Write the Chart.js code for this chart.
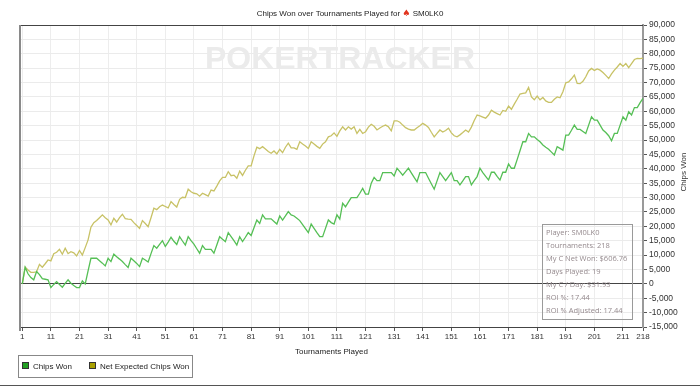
<!DOCTYPE html>
<html>
<head>
<meta charset="utf-8">
<script src="https://cdn.jsdelivr.net/npm/chart.js@4/dist/chart.umd.min.js"></script>
<style>
  html, body { margin: 0; padding: 0; background: #fff; }
</style>
</head>
<body>
<canvas id="chipsChart" width="700" height="387"></canvas>
<script>
// tick labels on the x axis
const xTicks = [1, 11, 21, 31, 41, 51, 61, 71, 81, 91, 101, 111, 121, 131, 141, 151, 161, 171, 181, 191, 201, 211, 218];

// chips won, one value per tournament (1..218)
const chipsWon = [
  0, 5800, 3500, 2200, 1400, 4300, 3200, 1800, 1600, 1400,
  -1300, -200, 800, -200, -1150, 200, 1400, 200, -600, -1300,
  -1300, 1000, 0, 4500, 8900, 8900, 8900, 8000, 7200, 6250,
  8900, 7750, 10300, 9400, 8600, 7750, 6700, 5700, 8900, 8000,
  7100, 6000, 8900, 8300, 7600, 10500, 13300, 12400, 13700, 15000,
  13000, 14500, 16200, 14800, 13700, 16400, 14900, 13500, 16400, 15000,
  13800, 12200, 10650, 13300, 12000, 12000, 12000, 10650, 13500, 16400,
  15500, 14700, 17800, 16400, 15000, 13500, 16400, 14700, 16200, 17800,
  16800, 19500, 22200, 21000, 24000, 22600, 22600, 22600, 21700, 20800,
  23600, 22200, 23600, 25100, 24000, 23600, 22800, 22000, 20600, 19200,
  17800, 20800, 19300, 17800, 16400, 16400, 19300, 22200, 21300, 20800,
  24000, 22500, 28000, 26800, 28400, 30000, 30000, 30000, 31500, 33200,
  31200, 31200, 35000, 37000, 35900, 35900, 38700, 38700, 38700, 38700,
  37500, 40200, 39000, 37800, 39000, 40200, 38600, 37000, 35500, 38700,
  38700, 38700, 36700, 34800, 32900, 35800, 38700, 37300, 35900, 37300,
  38700, 35900, 35900, 34400, 35800, 37300, 37300, 34400, 35900, 37300,
  40200, 38700, 37400, 36100, 38800, 38800, 37400, 36100, 38800, 38800,
  41700, 40200, 40200, 43200, 46300, 49400, 49400, 52300, 51100, 51100,
  50200, 49400, 48300, 47500, 46800, 45800, 44800, 47700, 47100, 46500,
  51700, 51700, 53400, 55200, 53700, 53700, 53000, 52300, 55200, 58100,
  56900, 56900, 55200, 53500, 52600, 51500, 49750, 52300, 52300, 55200,
  58100, 56900, 59800, 58700, 61300, 61300, 63000, 64500
];

// net expected chips won
const netExpected = [
  0, 5800, 4800, 4000, 4000, 4200, 6800, 5800, 7000, 8300,
  8000, 10500, 11000, 12000, 10300, 12400, 10500, 11200, 10800, 9700,
  11600, 10000, 12600, 15300, 19700, 21300, 22000, 23000, 24000, 23000,
  22200, 20500, 22800, 21500, 23000, 24200, 22700, 22500, 22400, 21300,
  20300, 19300, 22000, 21000, 19900, 23000, 26300, 25800, 26800, 27400,
  26900, 26400, 28600, 27600, 26700, 29400, 30100, 30000, 32900, 32000,
  31500, 31300, 30500, 31500, 31000, 30500, 32600, 32300, 34000, 35800,
  37000, 37000, 39000, 37600, 37800, 36700, 39200, 37700, 39500, 41000,
  41000, 44500, 47500, 47000, 47700, 46900, 46000, 45400, 46200, 45200,
  46800, 45600, 47500, 48900, 47300, 47300, 46800, 49400, 48600, 47900,
  47100, 49400, 48600, 47800, 47100, 48600, 49400, 51100, 51500, 52500,
  51300, 53200, 54600, 53500, 54600, 53800, 54600, 52300, 53700, 52300,
  52900, 54500, 55500, 54800, 53500, 54200, 54800, 55200, 54600, 53200,
  56700, 56700, 56200, 55200, 54300, 53800, 53500, 53500, 54300, 55000,
  55800, 55200, 54400, 52700, 51100, 52300, 53500, 52800, 53300, 54100,
  52500, 51500, 51100, 51800, 52600, 53500, 52800, 54500, 56800, 58700,
  58400, 58000, 57600, 58700, 60400, 59700, 59200, 58700, 60300, 60000,
  61800, 60700, 62500, 64200, 66000, 66200, 66400, 68300, 65000, 64000,
  65300, 64000, 64800, 63600, 63100, 63100, 64200, 65000, 64700, 66800,
  69900, 70200, 71300, 72600, 69700, 69600, 70400, 72000, 74000, 74900,
  74200, 74700, 74300, 73500, 72500, 71400, 73000, 74300, 75400, 76600,
  75600, 76600, 75200, 76600, 78000, 78400, 78300, 78500
];

const seriesNames = ['Chips Won', 'Net Expected Chips Won'];
const infoLines = [
  'Player: SM0LK0',
  'Tournaments: 218',
  'My C Net Won: $606.76',
  'Days Played: 19',
  'My C / Day: $31.93',
  'ROI %: 17.44',
  'ROI % Adjusted: 17.44'
];

const FONT = '"Liberation Sans", Arial, sans-serif';
const lineGreen = '#55bf55', lineYellow = '#c8c266';
const boxGreen = '#22a022', boxYellow = '#a9a000';

// everything the library does not draw itself: title, watermark, frame, info box, legend
const extras = {
  id: 'extras',
  beforeDraw(chart) {
    const ctx = chart.ctx;
    ctx.save();
    ctx.fillStyle = '#fff';
    ctx.fillRect(0, 0, chart.width, chart.height);
    ctx.restore();
  },
  beforeDatasetsDraw(chart) {
    const ctx = chart.ctx;
    ctx.save();
    // watermark
    ctx.font = 'bold 32px ' + FONT;
    ctx.fillStyle = '#ebebeb';
    ctx.textBaseline = 'alphabetic';
    const wm = 'POKERTRACKER';
    const w = ctx.measureText(wm).width;
    ctx.translate(205, 69);
    ctx.scale(270 / w, 1);
    ctx.fillText(wm, 0, 0);
    ctx.restore();
  },
  afterDraw(chart) {
    const ctx = chart.ctx;
    const a = chart.chartArea;
    ctx.save();

    // frame top and left
    ctx.strokeStyle = '#444';
    ctx.lineWidth = 1;
    ctx.beginPath();
    ctx.moveTo(a.left, a.top + 0.5);
    ctx.lineTo(a.right, a.top + 0.5);
    ctx.stroke();
    ctx.strokeStyle = '#8a8a8a';
    ctx.lineWidth = 2;
    ctx.beginPath();
    ctx.moveTo(a.left, a.top);
    ctx.lineTo(a.left, a.bottom + 4);
    ctx.stroke();

    // title with red spade
    ctx.textBaseline = 'middle';
    const t1 = 'Chips Won over Tournaments Played for ';
    const t2 = ' SM0LK0';
    ctx.font = '9px "DejaVu Sans"';
    const sw = ctx.measureText('\u2660').width;
    ctx.font = '8px ' + FONT;
    const w1 = ctx.measureText(t1).width, w2 = ctx.measureText(t2).width;
    const x = 350 - (w1 + sw + w2) / 2;
    ctx.fillStyle = '#222';
    ctx.fillText(t1, x, 14);
    ctx.font = '9px "DejaVu Sans"';
    ctx.fillStyle = '#e2341f';
    ctx.fillText('\u2660', x + w1, 14);
    ctx.font = '8px ' + FONT;
    ctx.fillStyle = '#222';
    ctx.fillText(t2, x + w1 + sw, 14);

    // y axis title, reading bottom to top
    ctx.save();
    ctx.translate(684, 172);
    ctx.rotate(-Math.PI / 2);
    ctx.textAlign = 'center';
    ctx.fillStyle = '#333';
    ctx.fillText('Chips Won', 0, 0);
    ctx.restore();

    // info box
    ctx.strokeStyle = '#9a9a9a';
    ctx.lineWidth = 1;
    ctx.strokeRect(542.5, 224.5, 90, 95);
    ctx.font = '7.5px "Open Sans", sans-serif';
    ctx.fillStyle = '#958a8e';
    ctx.textAlign = 'left';
    infoLines.forEach((s, i) => ctx.fillText(s, 546, 233 + i * 13));

    // legend
    ctx.strokeStyle = '#888';
    ctx.strokeRect(18.5, 355.5, 174, 22);
    ctx.font = '8px ' + FONT;
    const items = [[22, boxGreen, 33], [89, boxYellow, 100]];
    items.forEach(([bx, c, tx], i) => {
      ctx.fillStyle = c;
      ctx.fillRect(bx, 362, 7, 7);
      ctx.strokeStyle = '#333';
      ctx.strokeRect(bx + 0.5, 362.5, 6, 6);
      ctx.fillStyle = '#222';
      ctx.fillText(seriesNames[i], tx, 366.5);
    });

    // bottom edge of the picture
    ctx.strokeStyle = '#555';
    ctx.beginPath();
    ctx.moveTo(0, 385.5);
    ctx.lineTo(700, 385.5);
    ctx.stroke();
    ctx.restore();
  }
};

const toPoints = arr => arr.map((v, i) => ({ x: i + 1, y: v }));

new Chart(document.getElementById('chipsChart').getContext('2d'), {
  type: 'line',
  data: {
    datasets: [{
      label: seriesNames[0],
      data: toPoints(chipsWon),
      borderColor: lineGreen,
      borderWidth: 1.3,
      pointRadius: 0,
      tension: 0
    }, {
      label: seriesNames[1],
      data: toPoints(netExpected),
      borderColor: lineYellow,
      borderWidth: 1.3,
      pointRadius: 0,
      tension: 0
    }]
  },
  options: {
    responsive: false,
    animation: false,
    devicePixelRatio: 1,
    layout: { padding: { left: 20, top: 25, right: 10, bottom: 30 } },
    plugins: {
      legend: { display: false },
      tooltip: { enabled: false }
    },
    scales: {
      x: {
        type: 'linear',
        min: 0.2,
        max: 218,
        afterBuildTicks: s => { s.ticks = xTicks.map(v => ({ value: v })); },
        afterFit: s => { s.height = 30; },
        ticks: {
          autoSkip: false,
          maxRotation: 0,
          color: '#333',
          padding: 1,
          font: { family: FONT, size: 8 }
        },
        grid: { color: '#ededed', tickColor: '#555', tickLength: 4 },
        border: { color: '#444', width: 1 },
        title: {
          display: true,
          text: 'Tournaments Played',
          color: '#222',
          padding: { top: 2, bottom: 0 },
          font: { family: FONT, size: 8 }
        }
      },
      y: {
        position: 'right',
        min: -15000,
        max: 90000,
        afterFit: s => { s.width = 47; },
        ticks: {
          stepSize: 5000,
          color: '#333',
          padding: 2,
          font: { family: FONT, size: 8.5 },
          callback: v => v.toLocaleString('en-US')
        },
        grid: {
          color: c => (c.tick && c.tick.value === 0 ? '#444' : '#ebebeb'),
          tickColor: '#555',
          tickLength: 4
        },
        border: { color: '#9a9a9a', width: 2 }
      }
    }
  },
  plugins: [extras]
});
</script>
</body>
</html>
